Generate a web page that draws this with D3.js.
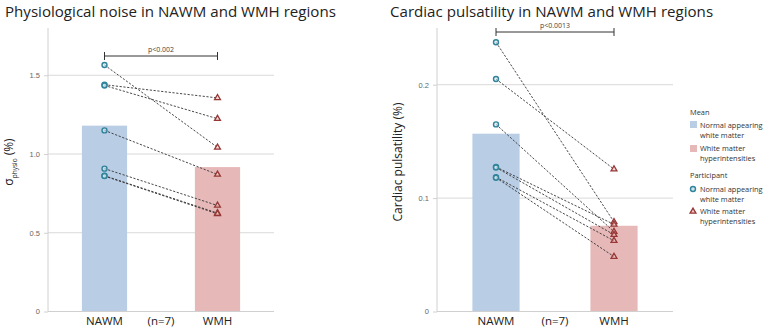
<!DOCTYPE html>
<html>
<head>
<meta charset="utf-8">
<script src="https://cdn.jsdelivr.net/npm/d3@7"></script>
<style>
  body { margin: 0; background: #fff; }
  svg { font-family: "Open Sans", "Noto Sans", sans-serif; }
</style>
</head>
<body>
<div id="chart"></div>
<script>
// categories on the x axis
const categories = ["NAWM", "(n=7)", "WMH"];

// left panel: physiological noise (%)
const physioNAWM = [1.565, 1.44, 1.435, 1.15, 0.907, 0.862, 0.86];
const physioWMH = [1.042, 1.356, 1.224, 0.870, 0.673, 0.625, 0.62];
const physioMeans = [1.18, 0.917];
const physioTicks = [0, 0.5, 1.0, 1.5];
const physioTickLabels = ["0", "0.5", "1.0", "1.5"];

// right panel: cardiac pulsatility (%)
const pulsNAWM = [0.2375, 0.205, 0.165, 0.1275, 0.127, 0.1185, 0.118];
const pulsWMH = [0.079, 0.1255, 0.0704, 0.0768, 0.0677, 0.0624, 0.0484];
const pulsMeans = [0.1568, 0.0756];
const pulsTicks = [0, 0.1, 0.2];
const pulsTickLabels = ["0", "0.1", "0.2"];

const width = 767, height = 331;
const blueFill = "#b9cde5", pinkFill = "#e6b9b8";
const circleStroke = "#31849b", triStroke = "#953735";

const svg = d3.select("#chart").append("svg")
  .attr("width", width)
  .attr("height", height);

function drawPanel(opt) {
  const g = svg.append("g");
  const x = d3.scalePoint().domain(categories).range([opt.left, opt.right]).padding(1);
  const y = d3.scaleLinear().domain([0, opt.max]).range([311.5, 28]);
  const bw = x.step() * 0.8;

  // title
  g.append("text")
    .attr("x", opt.titleX).attr("y", 17)
    .attr("font-size", 15.1).attr("fill", "#222")
    .text(opt.title);

  // gridlines
  g.selectAll(".grid").data(opt.ticks.slice(1)).enter().append("line")
    .attr("x1", opt.left).attr("x2", opt.right)
    .attr("y1", d => y(d)).attr("y2", d => y(d))
    .attr("stroke", "#d9d9d9").attr("stroke-width", 1);

  // bars (means)
  g.selectAll(".bar").data(opt.means).enter().append("rect")
    .attr("x", (d, i) => x(i === 0 ? "NAWM" : "WMH") - bw / 2)
    .attr("y", d => y(d))
    .attr("width", bw)
    .attr("height", d => y(0) - y(d))
    .attr("fill", (d, i) => i === 0 ? blueFill : pinkFill);

  // y axis
  const yAxis = d3.axisLeft(y).tickValues(opt.ticks)
    .tickFormat((d, i) => opt.tickLabels[i]).tickSize(4).tickPadding(4);
  const ya = g.append("g").attr("transform", `translate(${opt.left},0)`).call(yAxis);
  ya.select(".domain").attr("stroke", "#d0d0d0").attr("d", `M0,${y(opt.max)}V${y(0)}`);
  ya.selectAll(".tick line").attr("stroke", "#d0d0d0");
  ya.selectAll(".tick text").attr("fill", "#666").attr("font-size", 7.5);

  // x axis baseline
  g.append("line")
    .attr("x1", opt.left).attr("x2", opt.right)
    .attr("y1", y(0)).attr("y2", y(0))
    .attr("stroke", "#d0d0d0");

  // x labels
  g.selectAll(".xl").data(categories).enter().append("text")
    .attr("x", d => x(d)).attr("y", 325)
    .attr("text-anchor", "middle")
    .attr("font-size", 11.5).attr("fill", "#222")
    .text(d => d);

  // participant lines
  g.selectAll(".pl").data(opt.nawm).enter().append("line")
    .attr("x1", x("NAWM")).attr("y1", d => y(d))
    .attr("x2", x("WMH")).attr("y2", (d, i) => y(opt.wmh[i]))
    .attr("stroke", "#333").attr("stroke-width", 0.9)
    .attr("stroke-dasharray", "2.2,1.6");

  // NAWM circles
  g.selectAll(".pc").data(opt.nawm).enter().append("circle")
    .attr("cx", x("NAWM")).attr("cy", d => y(d)).attr("r", 2.5)
    .attr("fill", "#cde6ee").attr("fill-opacity", 0.6)
    .attr("stroke", circleStroke).attr("stroke-width", 1.4);

  // WMH triangles
  const tri = d3.symbol().type(d3.symbolTriangle).size(15);
  g.selectAll(".pt").data(opt.wmh).enter().append("path")
    .attr("d", tri)
    .attr("transform", d => `translate(${x("WMH")},${y(d)})`)
    .attr("fill", "#f2c4c3").attr("fill-opacity", 0.6)
    .attr("stroke", triStroke).attr("stroke-width", 1.3);

  // significance bracket
  const bx1 = x("NAWM"), bx2 = x("WMH");
  g.append("path")
    .attr("d", `M${bx1},${opt.bracketY - 4}V${opt.bracketY + 4}M${bx1},${opt.bracketY}H${bx2}M${bx2},${opt.bracketY - 4}V${opt.bracketY + 4}`)
    .attr("fill", "none").attr("stroke", "#333").attr("stroke-width", 1);
  g.append("text")
    .attr("x", (bx1 + bx2) / 2).attr("y", opt.bracketY - 4)
    .attr("text-anchor", "middle").attr("font-size", 7).attr("fill", "#444")
    .text(opt.pText);

  return g;
}

const left = drawPanel({
  left: 48, right: 274, max: 1.8,
  title: "Physiological noise in NAWM and WMH regions", titleX: 5,
  ticks: physioTicks, tickLabels: physioTickLabels,
  nawm: physioNAWM, wmh: physioWMH, means: physioMeans,
  bracketY: 56, pText: "p<0.002"
});

const right = drawPanel({
  left: 437, right: 673, max: 0.25,
  title: "Cardiac pulsatility in NAWM and WMH regions", titleX: 390,
  ticks: pulsTicks, tickLabels: pulsTickLabels,
  nawm: pulsNAWM, wmh: pulsWMH, means: pulsMeans,
  bracketY: 32, pText: "p<0.0013"
});

// y axis titles
const yl = left.append("text")
  .attr("transform", "translate(13,162) rotate(-90)")
  .attr("text-anchor", "middle").attr("font-size", 12).attr("fill", "#222");
yl.append("tspan").text("σ");
yl.append("tspan").attr("font-size", 6.5).attr("dy", 4).text("physio");
yl.append("tspan").attr("dy", -4).text(" (%)");

right.append("text")
  .attr("transform", "translate(402,162) rotate(-90)")
  .attr("text-anchor", "middle").attr("font-size", 12).attr("fill", "#222")
  .text("Cardiac pulsatility (%)");

// legend
const legend = svg.append("g").attr("font-size", 7.4).attr("fill", "#333");
legend.append("text").attr("x", 690).attr("y", 115).text("Mean");
legend.append("rect").attr("x", 690).attr("y", 121).attr("width", 7).attr("height", 7).attr("fill", blueFill);
legend.append("text").attr("x", 700).attr("y", 128).text("Normal appearing");
legend.append("text").attr("x", 700).attr("y", 138).text("white matter");
legend.append("rect").attr("x", 690).attr("y", 145).attr("width", 7).attr("height", 7).attr("fill", pinkFill);
legend.append("text").attr("x", 700).attr("y", 151).text("White matter");
legend.append("text").attr("x", 700).attr("y", 161).text("hyperintensities");
legend.append("text").attr("x", 690).attr("y", 178).text("Participant");
legend.append("circle").attr("cx", 693).attr("cy", 189).attr("r", 2.5)
  .attr("fill", "#cde6ee").attr("stroke", circleStroke).attr("stroke-width", 1.4);
legend.append("text").attr("x", 700).attr("y", 192).text("Normal appearing");
legend.append("text").attr("x", 700).attr("y", 202).text("white matter");
legend.append("path").attr("d", d3.symbol().type(d3.symbolTriangle).size(15))
  .attr("transform", "translate(693,211.5)")
  .attr("fill", "#f2c4c3").attr("stroke", triStroke).attr("stroke-width", 1.3);
legend.append("text").attr("x", 700).attr("y", 214).text("White matter");
legend.append("text").attr("x", 700).attr("y", 224).text("hyperintensities");
</script>
</body>
</html>
